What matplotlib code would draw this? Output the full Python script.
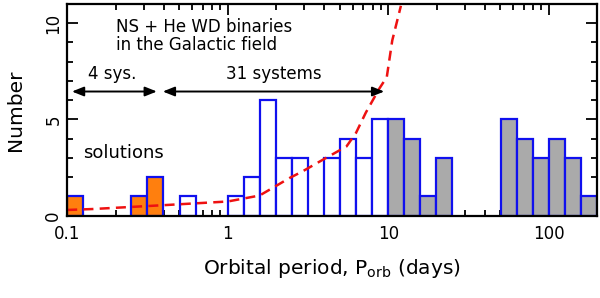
import numpy as np
import matplotlib
matplotlib.use("Agg")
import matplotlib.pyplot as plt
from matplotlib.ticker import LogLocator, MultipleLocator, FixedLocator, FixedFormatter

# bins: 0.1 dex in log10(P/days), from 0.1 to 200 days
log_edges = [round(-1.0 + 0.1 * k, 2) for k in range(34)]

orange_counts = [1, 0, 0, 0, 1, 2, 0, 0, 0, 0, 0, 0, 0, 0, 0, 0, 0,
                 0, 0, 0, 0, 0, 0, 0, 0, 0, 0, 0, 0, 0, 0, 0, 0]
white_counts = [0, 0, 0, 0, 0, 0, 0, 1, 0, 0, 1, 2, 6, 3, 3, 0, 3,
                4, 3, 5, 0, 0, 0, 0, 0, 0, 0, 0, 0, 0, 0, 0, 0]
gray_counts = [0, 0, 0, 0, 0, 0, 0, 0, 0, 0, 0, 0, 0, 0, 0, 0, 0,
               0, 0, 0, 5, 4, 1, 3, 0, 0, 0, 5, 4, 3, 4, 3, 1]

# red dashed model curve
curve_P = [0.1, 0.145, 0.40, 1.0, 1.58, 2.43, 2.92, 3.9, 5.5, 6.3, 7.25, 8.8, 9.8, 10.6, 12.0]
curve_N = [0.3, 0.35, 0.55, 0.74, 1.05, 1.96, 2.3, 2.9, 3.6, 4.3, 5.35, 6.6, 7.2, 9.1, 10.9]

edges = 10 ** np.array(log_edges)
left = edges[:-1]
width = edges[1:] - edges[:-1]

plt.rcParams['font.family'] = ['DejaVu Sans']
fig = plt.figure(figsize=(6.0, 2.98), dpi=100)
ax = fig.add_axes([0.112, 0.276, 0.883, 0.711])

blue = '#1010ee'
for counts, fc in [(orange_counts, '#ff7f0e'), (white_counts, 'white'), (gray_counts, '#aaaaaa')]:
    c = np.array(counts)
    m = c > 0
    ax.bar(left[m], c[m], width=width[m], align='edge', facecolor=fc,
           edgecolor=blue, linewidth=1.6, zorder=2)

ax.plot(curve_P, curve_N, color='#ee1111', lw=1.8, ls=(0, (4, 2.5)), zorder=3)

ax.set_xscale('log')
ax.set_xlim(0.1, 200)
ax.set_ylim(0, 11)

ax.xaxis.set_major_locator(FixedLocator([0.1, 1, 10, 100]))
ax.xaxis.set_major_formatter(FixedFormatter(['0.1', '1', '10', '100']))
ax.xaxis.set_minor_locator(LogLocator(base=10, subs=np.arange(2, 10)))
ax.xaxis.set_minor_formatter(matplotlib.ticker.NullFormatter())
ax.yaxis.set_major_locator(MultipleLocator(5))
ax.yaxis.set_minor_locator(MultipleLocator(1))

ax.tick_params(which='both', direction='in', top=True, right=True, width=1.3, labelsize=12)
ax.tick_params(which='major', length=8)
ax.tick_params(which='minor', length=4.5)
ax.tick_params(axis='x', pad=7)
for lab in ax.get_yticklabels():
    lab.set_rotation(90)
    lab.set_va('center')
for s in ax.spines.values():
    s.set_linewidth(1.6)
    s.set_zorder(5)

ax.set_ylabel('Number', fontsize=14.5, labelpad=14)
ax.set_xlabel(r'Orbital period, P$_{\mathregular{orb}}$ (days)', fontsize=14.5, labelpad=10)

ax.text(0.201, 10.25, 'NS + He WD binaries\nin the Galactic field', fontsize=12,
        ha='left', va='top', linespacing=0.95)
ax.text(0.19, 7.35, '4 sys.', fontsize=12, ha='center', va='center')
ax.text(1.95, 7.35, '31 systems', fontsize=12, ha='center', va='center')
ax.text(0.126, 3.25, 'solutions', fontsize=13, ha='left', va='center')

arrowprops = dict(arrowstyle='<|-|>,head_length=0.7,head_width=0.28', color='black', lw=1.4,
                  shrinkA=0, shrinkB=0)
ax.annotate('', xy=(0.107, 6.45), xytext=(0.362, 6.45), arrowprops=arrowprops)
ax.annotate('', xy=(0.394, 6.45), xytext=(9.45, 6.45), arrowprops=arrowprops)

fig.savefig('out.png', dpi=100)
